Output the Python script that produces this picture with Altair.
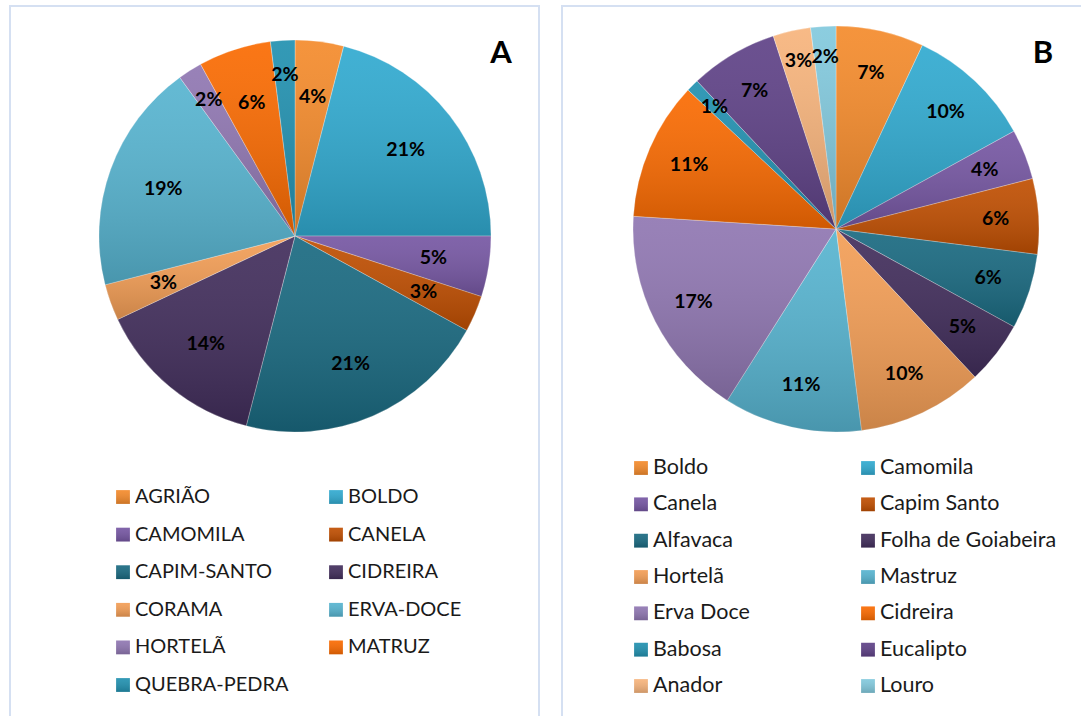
import altair as alt
import pandas as pd

# ---------------- data ----------------
A_names = ["AGRIÃO", "BOLDO", "CAMOMILA", "CANELA", "CAPIM-SANTO", "CIDREIRA",
           "CORAMA", "ERVA-DOCE", "HORTELÃ", "MATRUZ", "QUEBRA-PEDRA"]
A_values = [4, 21, 5, 3, 21, 14, 3, 19, 2, 6, 2]

B_names = ["Boldo", "Camomila", "Canela", "Capim Santo", "Alfavaca",
           "Folha de Goiabeira", "Hortelã", "Mastruz", "Erva Doce", "Cidreira",
           "Babosa", "Eucalipto", "Anador", "Louro"]
B_values = [7, 10, 4, 6, 6, 5, 10, 11, 17, 11, 1, 7, 3, 2]

panel_letters = ["A", "B"]

# ---------------- styles ----------------
A_colors = ["#F48B2C", "#31AAD0", "#7657A3", "#C04F02", "#1A6A81", "#422E5C",
            "#F39E56", "#57B4D0", "#9077B2", "#FA6B02", "#2291B0"]
B_colors = ["#F48B2C", "#31AAD0", "#7657A3", "#C04F02", "#1A6A81", "#422E5C",
            "#F39E56", "#57B4D0", "#9077B2", "#FA6B02", "#2291B0", "#5F4287",
            "#F7B47C", "#82C9DD"]

FONT = "Lato"
shade = alt.Gradient(
    gradient="linear", x1=0, x2=0, y1=0, y2=1,
    stops=[alt.GradientStop(color="rgba(255,255,255,0.08)", offset=0),
           alt.GradientStop(color="rgba(0,0,0,0.17)", offset=1)],
)


def panel(names, values, colors, cx, cy, r, label_r, label_r_small, small_max,
          sw_x, txt_x, row_y, leg_size):
    df = pd.DataFrame({"name": names, "value": values, "idx": list(range(len(names)))})
    base = alt.Chart(df)
    color = alt.Color("name:N", scale=alt.Scale(domain=names, range=colors), legend=None)
    theta = alt.Theta("value:Q", stack=True)
    order = alt.Order("idx:Q", sort="ascending")
    pos = dict(x=alt.value(cx), y=alt.value(cy))

    arcs = base.mark_arc(outerRadius=r, stroke="white", strokeWidth=0.6,
                         strokeOpacity=0.5).encode(theta=theta, color=color, order=order, **pos)
    arcs_shade = base.mark_arc(outerRadius=r, fill=shade).encode(theta=theta, order=order, **pos)

    lab_base = (base.transform_joinaggregate(total="sum(value)")
                .transform_window(cum="sum(value)", sort=[alt.SortField("idx")], frame=[None, 0])
                .transform_calculate(frac="datum.value / datum.total",
                                     mid="(datum.cum - datum.value / 2) / datum.total",
                                     label="format(datum.value / datum.total, '.0%')"))
    th_mid = alt.Theta("mid:Q", stack=None,
                       scale=alt.Scale(domain=[0, 1], range=[0, 6.283185307179586], zero=False, nice=False))
    lab_big = (lab_base.transform_filter(f"datum.frac > {small_max}")
               .mark_text(radius=label_r, font=FONT, fontWeight="bold", fontSize=19.5, color="black")
               .encode(theta=th_mid, text="label:N", **pos))
    lab_small = (lab_base.transform_filter(f"datum.frac <= {small_max}")
                 .mark_text(radius=label_r_small, font=FONT, fontWeight="bold", fontSize=19.5, color="black")
                 .encode(theta=th_mid, text="label:N", **pos))

    nrows = (len(names) + 1) // 2
    leg = base.transform_calculate(row="floor(datum.idx / 2)", col="datum.idx % 2")
    ys = alt.Y("row:Q", scale=alt.Scale(domain=[0, nrows - 1], range=row_y, nice=False, zero=False), axis=None)
    xs_sw = alt.X("col:Q", scale=alt.Scale(domain=[0, 1], range=sw_x, nice=False, zero=False), axis=None)
    xs_tx = alt.X("col:Q", scale=alt.Scale(domain=[0, 1], range=txt_x, nice=False, zero=False), axis=None)
    sw = leg.mark_square(size=190, opacity=1).encode(x=xs_sw, y=ys, color=color)
    sw_shade = leg.mark_square(size=190, filled=True, fill=shade, opacity=1).encode(x=xs_sw, y=ys)
    txt = leg.mark_text(align="left", baseline="middle", font=FONT, fontSize=leg_size,
                        color="#1a1a1a").encode(x=xs_tx, y=ys, text="name:N")
    return [arcs, arcs_shade, lab_big, lab_small, sw, sw_shade, txt]


layers_A = panel(A_names, A_values, A_colors, 295, 236, 196, 140, 161, 0.025,
                 [123, 336], [135, 348], [497, 685], 20)
layers_B = panel(B_names, B_values, B_colors, 836, 229, 203, 160, 172, 0.035,
                 [641, 868], [653, 880], [468, 686], 21.5)

pdf = pd.DataFrame({"panel": panel_letters})
border_A = alt.Chart(pdf).transform_filter("datum.panel == 'A'").mark_rect(
    fillOpacity=0, stroke="#D5E0F2", strokeWidth=2).encode(
    x=alt.value(10), x2=alt.value(539), y=alt.value(6), y2=alt.value(760))
border_B = alt.Chart(pdf).transform_filter("datum.panel == 'B'").mark_rect(
    fillOpacity=0, stroke="#D5E0F2", strokeWidth=2).encode(
    x=alt.value(562), x2=alt.value(1100), y=alt.value(6), y2=alt.value(760))
letters = alt.Chart(pdf).mark_text(font=FONT, fontWeight="bold", fontSize=31,
                                   baseline="alphabetic", color="black").encode(
    x=alt.X("panel:N", scale=alt.Scale(type="point", domain=panel_letters,
                                       range=[501, 1043], padding=0), axis=None),
    y=alt.value(63), text="panel:N")

chart = alt.layer(border_A, border_B, *layers_A, *layers_B, letters).resolve_scale(
    color="independent", x="independent", y="independent", theta="independent"
).properties(width=1081, height=716, padding=0, autosize="none",
             background="white").configure_view(stroke=None)

chart.save("out.html", embed_options={"renderer": "svg", "actions": False})
